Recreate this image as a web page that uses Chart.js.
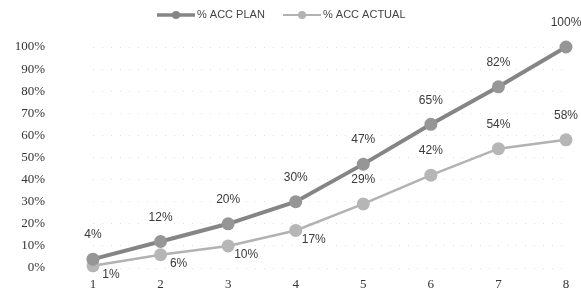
<!DOCTYPE html>
<html>
<head>
<meta charset="utf-8">
<script src="https://cdn.jsdelivr.net/npm/chart.js@4"></script>
<style>
html,body{margin:0;padding:0;background:#fff;overflow:hidden;}
#wrap{position:relative;width:581px;height:293px;}
</style>
</head>
<body>
<div id="wrap"><canvas id="c"></canvas></div>
<script>
const categories = ['1','2','3','4','5','6','7','8'];
const planValues = [4, 12, 20, 30, 47, 65, 82, 100];
const actualValues = [1, 6, 10, 17, 29, 42, 54, 58];
const seriesNames = ['% ACC PLAN', '% ACC ACTUAL'];
const yTicks = [0,10,20,30,40,50,60,70,80,90,100];

const planColor = '#858585';
const actualColor = '#b2b2b2';

const labelPlugin = {
  id: 'valueLabels',
  afterDatasetsDraw(chart) {
    const ctx = chart.ctx;
    ctx.save();
    ctx.font = '12px "Liberation Sans", Arial, sans-serif';
    ctx.fillStyle = '#3a3a3a';
    ctx.textAlign = 'center';
    ctx.textBaseline = 'middle';
    chart.data.datasets.forEach((ds, di) => {
      const meta = chart.getDatasetMeta(di);
      meta.data.forEach((pt, i) => {
        const txt = ds.data[i] + '%';
        let dx = 0, dy = -24;
        if (di === 1 && i < 4) { dx = 18; dy = 9; }
        ctx.fillText(txt, pt.x + dx, pt.y + dy);
      });
    });
    ctx.restore();
  }
};

const legendPlugin = {
  id: 'customLegend',
  afterDraw(chart) {
    const ctx = chart.ctx;
    ctx.save();
    ctx.font = '11px "Liberation Sans", Arial, sans-serif';
    ctx.textBaseline = 'middle';
    ctx.textAlign = 'left';
    const items = [
      {x: 157, color: planColor, w: 3.5, text: seriesNames[0]},
      {x: 283, color: actualColor, w: 2, text: seriesNames[1]}
    ];
    const y = 15;
    items.forEach(it => {
      ctx.strokeStyle = it.color;
      ctx.lineWidth = it.w;
      ctx.beginPath();
      ctx.moveTo(it.x, y);
      ctx.lineTo(it.x + 38, y);
      ctx.stroke();
      ctx.fillStyle = it.color;
      ctx.beginPath();
      ctx.arc(it.x + 19, y, 4, 0, Math.PI * 2);
      ctx.fill();
      ctx.fillStyle = '#444';
      ctx.fillText(it.text, it.x + 40, y);
    });
    ctx.restore();
  }
};

new Chart(document.getElementById('c'), {
  type: 'line',
  data: {
    labels: categories,
    datasets: [
      {
        label: seriesNames[0],
        data: planValues,
        borderColor: planColor,
        backgroundColor: '#999999',
        borderWidth: 4,
        pointRadius: 6.5,
        pointBorderWidth: 0,
        pointBackgroundColor: '#969696',
        tension: 0,
        clip: false
      },
      {
        label: seriesNames[1],
        data: actualValues,
        borderColor: actualColor,
        backgroundColor: '#b8b8b8',
        borderWidth: 2.5,
        pointRadius: 6.5,
        pointBorderWidth: 0,
        pointBackgroundColor: '#b6b6b6',
        tension: 0,
        clip: false
      }
    ]
  },
  options: {
    responsive: true,
    maintainAspectRatio: false,
    animation: false,
    devicePixelRatio: 1,
    layout: { padding: { top: 47, right: 15, bottom: 0, left: 0 } },
    plugins: { legend: { display: false }, tooltip: { enabled: false } },
    scales: {
      x: {
        offset: false,
        afterFit(scale) { scale.height = 25; scale.paddingLeft = 0; scale.paddingRight = 0; },
        grid: { display: false, drawTicks: false },
        border: { display: false },
        ticks: {
          padding: 9,
          maxRotation: 0,
          color: '#333',
          font: { family: '"Liberation Serif", "DejaVu Serif", serif', size: 13 }
        }
      },
      y: {
        min: 0,
        max: 100,
        afterFit(scale) { scale.width = 93; scale.paddingTop = 0; scale.paddingBottom = 0; },
        afterBuildTicks(scale) { scale.ticks = yTicks.map(v => ({ value: v })); },
        grid: { color: 'rgba(0,0,0,0.12)', drawTicks: false, tickBorderDash: [1, 8] },
        border: { display: false, dash: [1, 8] },
        ticks: {
          padding: 48,
          color: '#333',
          font: { family: '"Liberation Serif", "DejaVu Serif", serif', size: 13 },
          callback: v => v + '%'
        }
      }
    }
  },
  plugins: [labelPlugin, legendPlugin]
});
</script>
</body>
</html>
